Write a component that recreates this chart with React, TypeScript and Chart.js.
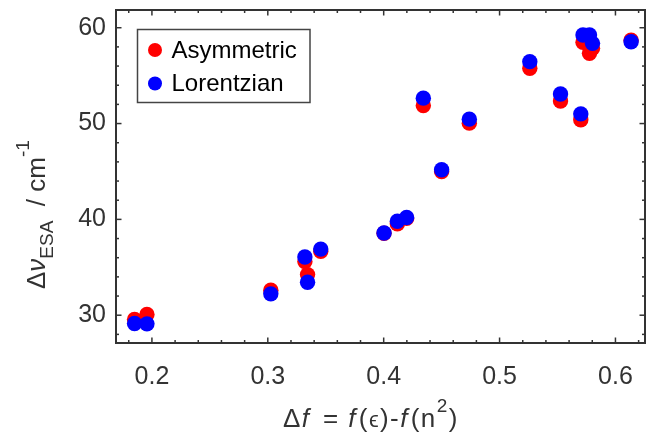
import React, { useEffect, useRef } from 'react';
import { Chart, registerables } from 'chart.js';

Chart.register(...registerables);

// Δf = f(ε) - f(n²) for each solvent
const deltaF = [0.185, 0.1957, 0.3026, 0.332, 0.3343, 0.3457, 0.4003, 0.4118, 0.4198, 0.4342, 0.45, 0.4739, 0.5261, 0.5526, 0.5701, 0.572, 0.5776, 0.5802, 0.6135];
// Δν_ESA (cm⁻¹) – asymmetric fit
const asymmetric = [29.55, 30.07, 32.6, 35.6, 34.24, 36.67, 38.55, 39.55, 40.1, 51.88, 45.0, 50.04, 55.77, 52.36, 50.39, 58.48, 57.33, 57.85, 58.7];
// Δν_ESA (cm⁻¹) – Lorentzian fit
const lorentzian = [29.13, 29.1, 32.23, 36.08, 33.44, 36.9, 38.58, 39.8, 40.2, 52.65, 45.18, 50.46, 56.46, 53.09, 51.01, 59.24, 59.24, 58.37, 58.54];

const seriesLabels = ['Asymmetric', 'Lorentzian'];
const xTicks = [0.2, 0.3, 0.4, 0.5, 0.6];
const yTicks = [30, 40, 50, 60];
const xMinorStep = 0.02;
const yMinorStep = 2;
const xRange = [0.169, 0.6255];
const yRange = [27.1, 61.85];

const FONT = "'Liberation Sans', Arial, Helvetica, sans-serif";
const AXIS_COLOR = '#333333';

type Seg = { t: string; font: string; dy?: number; gap?: number };

function drawRich(ctx: CanvasRenderingContext2D, segs: Seg[], x: number, y: number, spacing: number) {
  let cx = x;
  for (const s of segs) {
    ctx.font = s.font;
    for (const ch of Array.from(s.t)) {
      ctx.fillText(ch, cx, y + (s.dy || 0));
      cx += ctx.measureText(ch).width + spacing;
    }
    cx += s.gap || 0;
  }
}

const framePlugin = {
  id: 'matlabFrame',
  beforeDatasetsDraw(chart: any) {
    const { ctx, chartArea: a, scales } = chart;
    const xs = scales.x;
    const ys = scales.y;
    ctx.save();
    ctx.strokeStyle = AXIS_COLOR;
    ctx.lineWidth = 1.5;
    const line = (x1: number, y1: number, x2: number, y2: number) => {
      ctx.beginPath();
      ctx.moveTo(x1, y1);
      ctx.lineTo(x2, y2);
      ctx.stroke();
    };
    const isMajor = (arr: number[], v: number) => arr.some((t) => Math.abs(t - v) < 1e-9);
    for (let k = Math.ceil(xs.min / xMinorStep - 1e-9); k * xMinorStep <= xs.max + 1e-9; k++) {
      const v = Math.round(k * xMinorStep * 1000) / 1000;
      const p = xs.getPixelForValue(v);
      const len = isMajor(xTicks, v) ? 5.5 : 3;
      line(p, a.bottom, p, a.bottom - len);
      line(p, a.top, p, a.top + len);
    }
    for (let k = Math.ceil(ys.min / yMinorStep - 1e-9); k * yMinorStep <= ys.max + 1e-9; k++) {
      const v = k * yMinorStep;
      const p = ys.getPixelForValue(v);
      const len = isMajor(yTicks, v) ? 5.5 : 3;
      line(a.left, p, a.left + len, p);
      line(a.right, p, a.right - len, p);
    }
    ctx.lineWidth = 2;
    ctx.strokeRect(a.left, a.top, a.right - a.left, a.bottom - a.top);
    ctx.restore();
  },
  afterDatasetsDraw(chart: any) {
    const { ctx, chartArea: a } = chart;
    ctx.save();
    // legend box
    const bx = a.left + 21.5;
    const by = a.top + 19.5;
    const bw = 172.5;
    const bh = 73;
    ctx.fillStyle = '#ffffff';
    ctx.fillRect(bx, by, bw, bh);
    ctx.strokeStyle = '#444444';
    ctx.lineWidth = 1.5;
    ctx.strokeRect(bx, by, bw, bh);
    const rows = [by + 20.5, by + 54];
    chart.data.datasets.forEach((ds: any, i: number) => {
      const cy = rows[i];
      ctx.beginPath();
      ctx.arc(bx + 17.5, cy, 7, 0, Math.PI * 2);
      ctx.fillStyle = ds.backgroundColor;
      ctx.fill();
      ctx.fillStyle = '#000000';
      ctx.font = `24px ${FONT}`;
      ctx.textBaseline = 'middle';
      ctx.textAlign = 'left';
      ctx.fillText(ds.label, bx + 34, cy + 1);
    });

    // axis titles
    ctx.fillStyle = AXIS_COLOR;
    ctx.textBaseline = 'alphabetic';
    const main = `26px ${FONT}`;
    const ital = `italic 26px ${FONT}`;
    const small = `19px ${FONT}`;
    drawRich(
      ctx,
      [
        { t: 'Δ', font: main },
        { t: 'f', font: ital, gap: 4 },
        { t: ' = ', font: main },
        { t: 'f', font: ital, gap: 2 },
        { t: '(', font: main },
        { t: 'ϵ', font: `22px ${FONT}` },
        { t: ')-', font: main },
        { t: 'f', font: ital, gap: 2 },
        { t: '(n', font: main },
        { t: '2', font: small, dy: -15 },
        { t: ')', font: main },
      ],
      a.left + 167,
      427,
      1.4
    );

    ctx.translate(45, 289);
    ctx.rotate(-Math.PI / 2);
    drawRich(
      ctx,
      [
        { t: 'Δ', font: `26px ${FONT}` },
        { t: 'ν', font: `italic 26px ${FONT}` },
        { t: 'ESA', font: `19px ${FONT}`, dy: 8 },
        { t: '  / cm', font: `26px ${FONT}` },
        { t: '-1', font: `19px ${FONT}`, dy: -16 },
      ],
      0,
      0,
      0
    );
    ctx.restore();
  },
};

export default function App() {
  const ref = useRef<HTMLCanvasElement>(null);

  useEffect(() => {
    if (!ref.current) return;
    const chart = new Chart(ref.current, {
      type: 'scatter',
      data: {
        datasets: [
          {
            label: seriesLabels[0],
            data: deltaF.map((x, i) => ({ x, y: asymmetric[i] })),
            backgroundColor: '#ff0000',
            borderWidth: 0,
            pointRadius: 7.7,
            pointHoverRadius: 7.7,
            order: 1,
          },
          {
            label: seriesLabels[1],
            data: deltaF.map((x, i) => ({ x, y: lorentzian[i] })),
            backgroundColor: '#0000ff',
            borderWidth: 0,
            pointRadius: 7.7,
            pointHoverRadius: 7.7,
            order: 0,
          },
        ],
      },
      options: {
        responsive: false,
        animation: false,
        events: [],
        layout: { autoPadding: false, padding: { left: 0, top: 10, right: 1, bottom: 0 } },
        plugins: { legend: { display: false }, tooltip: { enabled: false } },
        scales: {
          x: {
            type: 'linear',
            min: xRange[0],
            max: xRange[1],
            grid: { display: false, drawTicks: true, tickLength: 19 },
            border: { display: false },
            afterBuildTicks: (s: any) => {
              s.ticks = xTicks.map((value) => ({ value }));
            },
            afterFit: (s: any) => {
              s.height = 93;
              s.paddingLeft = 0;
              s.paddingRight = 0;
            },
            ticks: {
              autoSkip: false,
              maxRotation: 0,
              padding: 0,
              color: AXIS_COLOR,
              font: { family: FONT, size: 25 },
              callback: (v: any) => Number(v).toFixed(1),
            },
          },
          y: {
            type: 'linear',
            min: yRange[0],
            max: yRange[1],
            grid: { display: false, drawTicks: true, tickLength: 10 },
            border: { display: false },
            afterBuildTicks: (s: any) => {
              s.ticks = yTicks.map((value) => ({ value }));
            },
            afterFit: (s: any) => {
              s.width = 116;
              s.paddingTop = 0;
              s.paddingBottom = 0;
            },
            ticks: {
              autoSkip: false,
              padding: 0,
              color: AXIS_COLOR,
              font: { family: FONT, size: 25 },
              callback: (v: any) => String(v),
            },
          },
        },
      },
      plugins: [framePlugin],
    } as any);
    return () => chart.destroy();
  }, []);

  return (
    <div style={{ position: 'absolute', left: 0, top: 0, width: 646, height: 436, background: '#ffffff' }}>
      <canvas ref={ref} width={646} height={436} style={{ display: 'block', width: 646, height: 436 }} />
    </div>
  );
}
